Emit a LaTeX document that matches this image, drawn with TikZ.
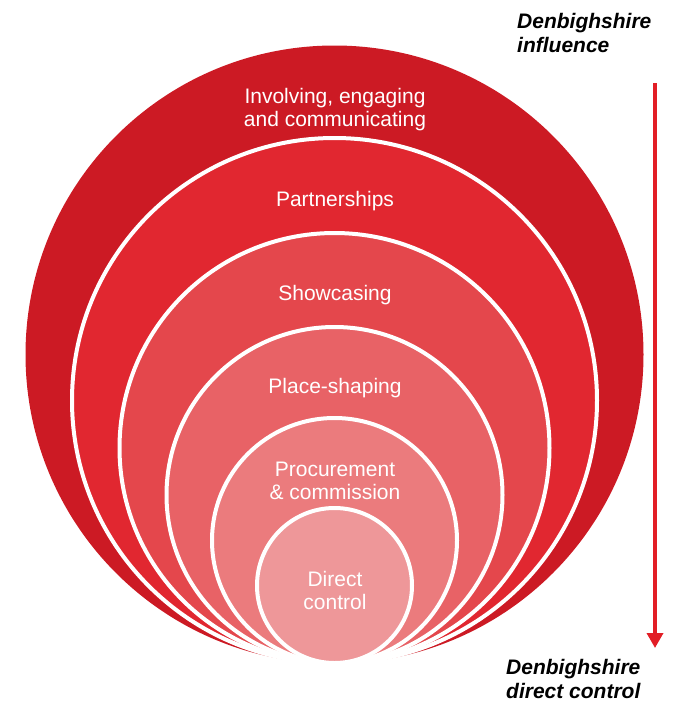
\documentclass[tikz,border=0pt]{standalone}
\usepackage{fontspec}
\setmainfont{Liberation Sans}
\usetikzlibrary{arrows.meta}
\definecolor{cA}{RGB}{204,26,36}
\definecolor{cB}{RGB}{225,39,48}
\definecolor{cC}{RGB}{228,71,76}
\definecolor{cD}{RGB}{232,98,102}
\definecolor{cE}{RGB}{235,123,125}
\definecolor{cF}{RGB}{238,151,153}
\definecolor{arrowred}{RGB}{226,30,38}
\tikzset{
  ring/.style={draw=white, line width=4pt},
  ringlabel/.style={text=white, align=center, font=\fontsize{21}{23}\selectfont, inner sep=0pt},
  sidelabel/.style={text=black, align=left, font=\fontsize{21}{24}\selectfont\bfseries\itshape, inner sep=0pt, anchor=west}
}
\begin{document}
\begin{tikzpicture}[x=1pt,y=-1pt]
\useasboundingbox (0,0) rectangle (675,702);
% nested circles tangent at the bottom (y = 663)
\fill[cA] (334.5,354.5) circle (309);
\filldraw[fill=cB, ring] (334.5,400.5) circle (262.5);
\filldraw[fill=cC, ring] (334.5,448) circle (215);
\filldraw[fill=cD, ring] (334.5,495) circle (168);
\filldraw[fill=cE, ring] (334.5,540.5) circle (122.5);
\filldraw[fill=cF, ring] (334.5,585.5) circle (77.5);
% labels
\node[ringlabel] (l1) at (335,110) {Involving, engaging\\and communicating};
\node[ringlabel] (l2) at (335,201) {Partnerships};
\node[ringlabel] (l3) at (335,295) {Showcasing};
\node[ringlabel] (l4) at (335,388) {Place-shaping};
\node[ringlabel] (l5) at (335,481) {Procurement\\\&\ commission};
\node[ringlabel] (l6) at (335,590) {Direct\\control};
% side labels and arrow
\node[sidelabel] (top) at (517,33) {Denbighshire\\influence};
\node[sidelabel] (bot) at (506,679) {Denbighshire\\direct control};
\coordinate (astart) at (655,83);
\coordinate (aend) at (655,648);
\draw[arrowred, line width=3.5pt, -{Triangle[width=16pt,length=15pt]}] (astart) -- (aend);
\end{tikzpicture}
\end{document}
